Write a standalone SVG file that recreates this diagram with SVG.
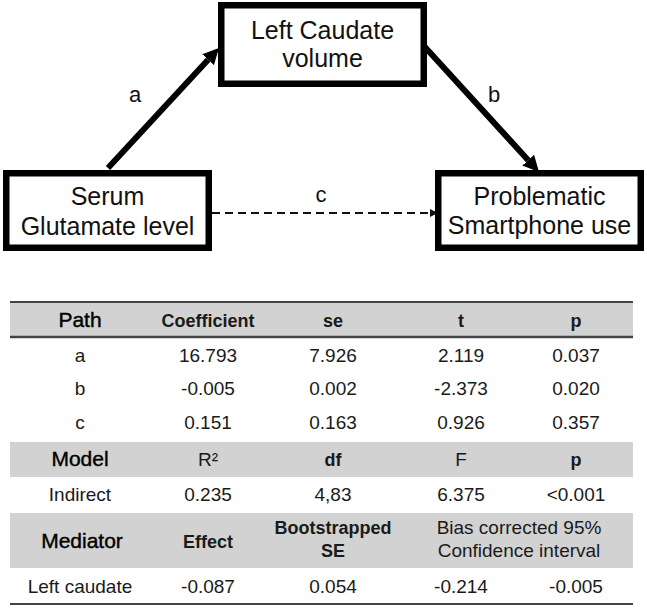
<svg xmlns="http://www.w3.org/2000/svg" width="647" height="608" viewBox="0 0 647 608">
<defs>
<style>
.box{fill:#fff;stroke:#000;stroke-width:6.5}
.nt{font-family:"Liberation Sans",Arial,sans-serif;font-size:25px;fill:#111;text-anchor:middle}
.lbl{font-family:"Liberation Sans",Arial,sans-serif;font-size:22px;fill:#111;text-anchor:middle}
.solid{stroke:#000;stroke-width:6;fill:none}
.dash{stroke:#111;stroke-width:2;stroke-dasharray:8 5;fill:none}
.band{fill:#d2d2d2}
.rule{stroke:#444;stroke-width:2}
.td{font-family:"Liberation Sans",Arial,sans-serif;font-size:19px;fill:#1a1a1a;text-anchor:middle}
.th{font-family:"Liberation Sans",Arial,sans-serif;font-size:18px;font-weight:bold;fill:#1a1a1a;text-anchor:middle}
.thr{font-family:"Liberation Sans",Arial,sans-serif;font-size:19px;fill:#1a1a1a;text-anchor:middle}
.thb{font-family:"Liberation Sans",Arial,sans-serif;font-size:21px;fill:#000;text-anchor:middle;stroke:#000;stroke-width:0.4}
</style>
<marker id="big" markerUnits="userSpaceOnUse" markerWidth="16" markerHeight="16" refX="0" refY="8" orient="auto">
<path d="M0,0 L16,8 L0,16 z" fill="#000"/>
</marker>
<marker id="small" markerUnits="userSpaceOnUse" markerWidth="8" markerHeight="8" refX="0" refY="4" orient="auto">
<path d="M0,0 L8,4 L0,8 z" fill="#111"/>
</marker>
</defs>
<rect width="647" height="608" fill="#fff"/>
<g id="connectors">
<line class="solid" x1="108" y1="168" x2="208.1" y2="59.7" marker-end="url(#big)"/>
<line class="solid" x1="424" y1="46" x2="528.2" y2="160.2" marker-end="url(#big)"/>
<line class="dash" x1="212" y1="213" x2="430" y2="213" marker-end="url(#small)"/>
<text class="lbl" x="135" y="102">a</text>
<text class="lbl" x="494" y="102">b</text>
<text class="lbl" x="321" y="202">c</text>
</g>
<g id="node-caudate">
<rect class="box" x="221.25" y="5.25" width="202.5" height="78.5"/>
<text class="nt" x="322.5" y="39">Left Caudate</text>
<text class="nt" x="322.5" y="67">volume</text>
</g>
<g id="node-serum">
<rect class="box" x="6.25" y="173.25" width="202.5" height="74.5"/>
<text class="nt" x="107.5" y="205">Serum</text>
<text class="nt" x="107.5" y="235">Glutamate level</text>
</g>
<g id="node-psu">
<rect class="box" x="438.25" y="173.25" width="202.5" height="74.5"/>
<text class="nt" x="539.5" y="205">Problematic</text>
<text class="nt" x="539.5" y="234">Smartphone use</text>
</g>
<g id="table">
<rect class="band" x="10" y="302" width="623" height="35"/>
<line class="rule" x1="10" y1="302" x2="633" y2="302"/>
<line class="rule" x1="10" y1="337" x2="633" y2="337" style="stroke-width:2.5"/>
<rect class="band" x="10" y="442" width="623" height="35"/>
<rect class="band" x="10" y="513" width="623" height="55"/>
<line class="rule" x1="10" y1="604" x2="633" y2="604"/>
<text class="thb" x="80" y="327">Path</text>
<text class="th" x="208" y="327">Coefficient</text>
<text class="th" x="333" y="327">se</text>
<text class="th" x="461" y="327">t</text>
<text class="th" x="576" y="327">p</text>
<text class="td" x="80" y="362">a</text>
<text class="td" x="208" y="362">16.793</text>
<text class="td" x="333" y="362">7.926</text>
<text class="td" x="461" y="362">2.119</text>
<text class="td" x="576" y="362">0.037</text>
<text class="td" x="80" y="395">b</text>
<text class="td" x="208" y="395">-0.005</text>
<text class="td" x="333" y="395">0.002</text>
<text class="td" x="461" y="395">-2.373</text>
<text class="td" x="576" y="395">0.020</text>
<text class="td" x="80" y="429">c</text>
<text class="td" x="208" y="429">0.151</text>
<text class="td" x="333" y="429">0.163</text>
<text class="td" x="461" y="429">0.926</text>
<text class="td" x="576" y="429">0.357</text>
<text class="thb" x="80" y="466">Model</text>
<text class="thr" x="208" y="466">R²</text>
<text class="th" x="333" y="466">df</text>
<text class="thr" x="461" y="466">F</text>
<text class="th" x="576" y="466">p</text>
<text class="td" x="80" y="501">Indirect</text>
<text class="td" x="208" y="501">0.235</text>
<text class="td" x="333" y="501">4,83</text>
<text class="td" x="461" y="501">6.375</text>
<text class="td" x="576" y="501">&lt;0.001</text>
<text class="thb" x="82" y="548">Mediator</text>
<text class="th" x="208" y="548">Effect</text>
<text class="th" x="333" y="534">Bootstrapped</text>
<text class="th" x="333" y="557">SE</text>
<text class="thr" x="519" y="534">Bias corrected 95%</text>
<text class="thr" x="519" y="557">Confidence interval</text>
<text class="td" x="80" y="593">Left caudate</text>
<text class="td" x="208" y="593">-0.087</text>
<text class="td" x="333" y="593">0.054</text>
<text class="td" x="461" y="593">-0.214</text>
<text class="td" x="576" y="593">-0.005</text>
</g>
</svg>
